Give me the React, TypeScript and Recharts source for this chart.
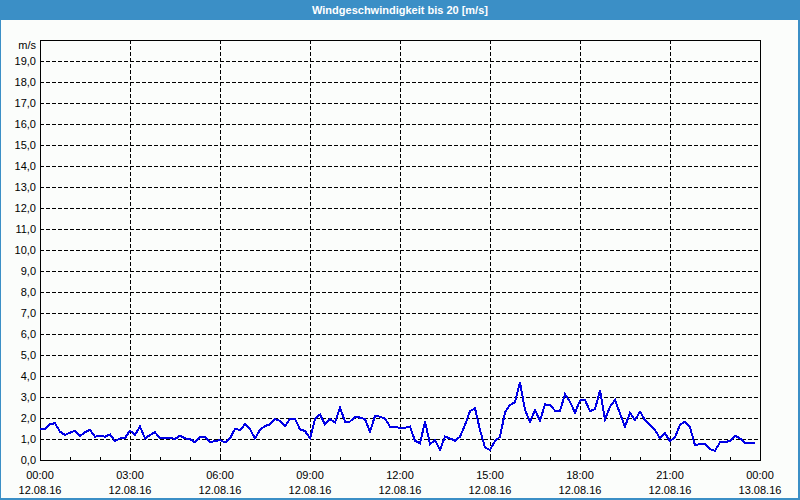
import { LineChart, Line, XAxis, YAxis, CartesianGrid, ReferenceArea } from "recharts";

// wind speed in m/s, one reading every 10 minutes from 12.08.16 00:00
const speeds = [
  1.49, 1.49, 1.71, 1.75, 1.35, 1.19, 1.3, 1.4, 1.14, 1.32, 1.44, 1.11,
  1.16, 1.11, 1.22, 0.9, 1.03, 1.05, 1.4, 1.19, 1.59, 1.03, 1.19, 1.32,
  1.03, 1.06, 1.06, 1.0, 1.16, 1.03, 1.0, 0.84, 1.11, 1.11, 0.84, 0.9,
  0.95, 0.83, 1.03, 1.48, 1.43, 1.7, 1.46, 1.03, 1.43, 1.62, 1.7, 1.94,
  1.86, 1.62, 1.95, 1.95, 1.46, 1.38, 1.03, 1.94, 2.17, 1.7, 1.94, 1.79,
  2.49, 1.83, 1.83, 2.06, 2.02, 1.94, 1.35, 2.1, 2.06, 1.98, 1.59, 1.56,
  1.54, 1.54, 1.59, 0.92, 0.79, 1.83, 0.76, 0.95, 0.48, 1.11, 1.03, 0.92,
  1.11, 1.67, 2.33, 2.46, 1.43, 0.6, 0.48, 0.9, 1.11, 2.27, 2.62, 2.75,
  3.7, 2.38, 1.83, 2.38, 1.87, 2.65, 2.62, 2.35, 2.35, 3.13, 2.78, 2.25,
  2.83, 2.86, 2.33, 2.43, 3.3, 1.94, 2.54, 2.86, 2.22, 1.59, 2.25, 1.9,
  2.3, 1.9, 1.67, 1.43, 1.03, 1.27, 0.9, 1.08, 1.67, 1.83, 1.56, 0.71,
  0.76, 0.76, 0.52, 0.44, 0.84, 0.84, 0.92, 1.16, 1.03, 0.79, 0.79, 0.79,
];

const tickSlots = [0, 18, 36, 54, 72, 90, 108, 126, 144];
const tickTimes = ["00:00", "03:00", "06:00", "09:00", "12:00", "15:00", "18:00", "21:00", "00:00"];
const tickDates = [
  "12.08.16", "12.08.16", "12.08.16", "12.08.16", "12.08.16",
  "12.08.16", "12.08.16", "12.08.16", "13.08.16",
];
const yTicks = [0, 1, 2, 3, 4, 5, 6, 7, 8, 9, 10, 11, 12, 13, 14, 15, 16, 17, 18, 19];
const hourTicks = Array.from({ length: 25 }, (_, i) => i * 6);

const data = speeds.map((v, i) => ({ slot: i, speed: v }));

const FONT = "'Liberation Sans', Arial, sans-serif";
const BLUE = "#3b8fc6";
const PLOT_BOTTOM = 460;

function TimeTick(props: any) {
  const { x, payload } = props;
  const i = tickSlots.indexOf(payload.value);
  if (i < 0) return <g />;
  return (
    <g>
      <text x={x} y={PLOT_BOTTOM + 19} textAnchor="middle" fontSize={11} fontFamily={FONT} fill="#000">
        {tickTimes[i]}
      </text>
      <text x={x} y={PLOT_BOTTOM + 34} textAnchor="middle" fontSize={11} fontFamily={FONT} fill="#000">
        {tickDates[i]}
      </text>
    </g>
  );
}

export default function App() {
  return (
    <div style={{ position: "relative", width: 800, height: 500, background: "#fbfdfb" }}>
      <style>{"body{margin:0} .recharts-surface{shape-rendering:crispEdges}"}</style>
      <LineChart
        width={800}
        height={500}
        data={data}
        margin={{ top: 40, right: 40, left: 0, bottom: 0 }}
      >
        <CartesianGrid stroke="#000" strokeDasharray="4 2" verticalValues={tickSlots} />
        <XAxis
          dataKey="slot"
          type="number"
          domain={[0, 144]}
          ticks={hourTicks}
          interval={0}
          height={40}
          tickSize={-3}
          tickLine={{ stroke: "#000" }}
          axisLine={false}
          tick={<TimeTick />}
        />
        <YAxis
          type="number"
          domain={[0, 20]}
          ticks={yTicks}
          interval={0}
          width={40}
          tickLine={false}
          axisLine={false}
          tickSize={0}
          tickMargin={4}
          tick={{ fontSize: 11, fontFamily: FONT, fill: "#000" }}
          tickFormatter={(v: number) => v.toFixed(1).replace(".", ",")}
        />
        <ReferenceArea x1={0} x2={144} y1={0} y2={20} fill="none" stroke="#000" strokeWidth={1} fillOpacity={0} />
        <Line
          type="linear"
          dataKey="speed"
          stroke="#0000e6"
          strokeWidth={2}
          dot={false}
          isAnimationActive={false}
        />
      </LineChart>
      <div
        style={{
          position: "absolute",
          left: 0,
          top: 0,
          width: 800,
          height: 20,
          background: BLUE,
          color: "#fff",
          fontFamily: FONT,
          fontWeight: "bold",
          fontSize: 11,
          lineHeight: "20px",
          textAlign: "center",
        }}
      >
        Windgeschwindigkeit bis 20 [m/s]
      </div>
      <div
        style={{
          position: "absolute",
          right: 764,
          top: 39,
          fontFamily: FONT,
          fontSize: 11,
          color: "#000",
          whiteSpace: "nowrap",
        }}
      >
        m/s
      </div>
      <div style={{ position: "absolute", left: 0, top: 0, width: 1, height: 500, background: BLUE }} />
      <div style={{ position: "absolute", right: 0, top: 0, width: 2, height: 500, background: BLUE }} />
      <div style={{ position: "absolute", left: 0, bottom: 0, width: 800, height: 2, background: BLUE }} />
    </div>
  );
}
